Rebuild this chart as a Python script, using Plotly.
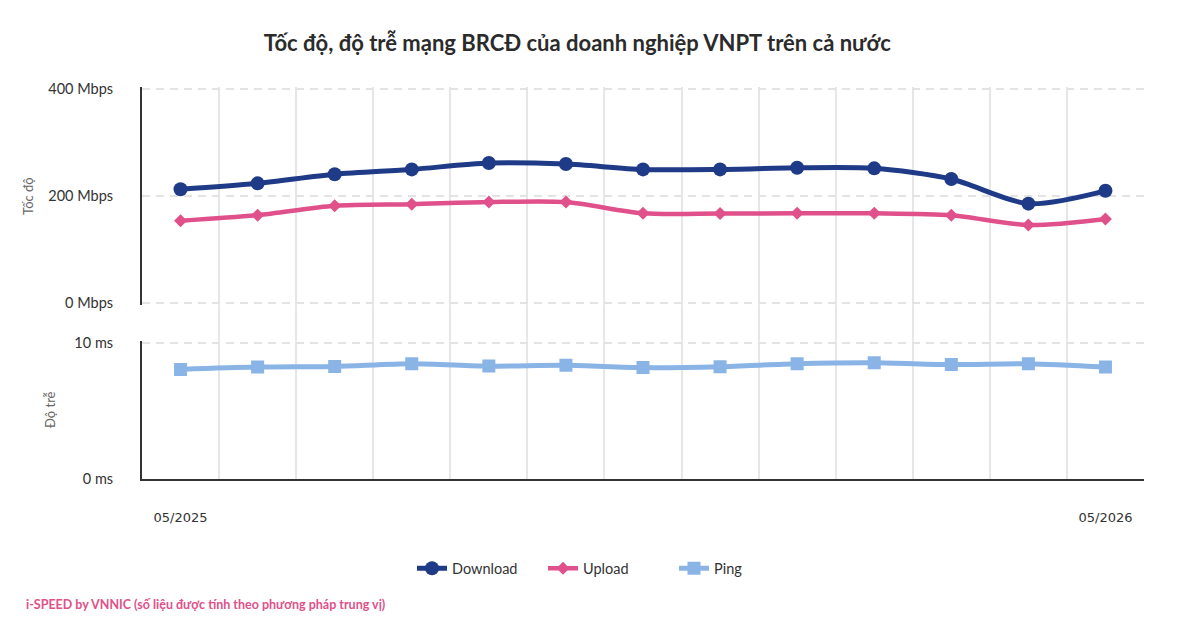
import plotly.graph_objects as go

months = ["05/2025", "06/2025", "07/2025", "08/2025", "09/2025", "10/2025", "11/2025",
          "12/2025", "01/2026", "02/2026", "03/2026", "04/2026", "05/2026"]
tick_text = ["05/2025", "", "", "", "", "", "", "", "", "", "", "", "05/2026"]
speed_ticks = [0, 200, 400]
speed_labels = ["0 Mbps", "200 Mbps", "400 Mbps"]
ping_ticks = [0, 10]
ping_labels = ["0 ms", "10 ms"]
download = [213, 224, 241, 250, 262, 260, 250, 250, 253, 252, 232, 186, 210]
upload = [154, 164.5, 182, 185, 189, 189, 168, 167.5, 168, 168, 164.5, 146, 157.5]
ping = [8.04, 8.21, 8.26, 8.46, 8.28, 8.34, 8.17, 8.24, 8.46, 8.53, 8.39, 8.46, 8.21]

C_DL = "#1f3a87"
C_UL = "#e0508a"
C_PING = "#8ab4e6"
FONT = "Lato"

fig = go.Figure()
# empty trace on a full-height axis so vertical gridlines span both panels
fig.add_trace(go.Scatter(x=months, y=[None] * len(months), xaxis="x", yaxis="y",
                         showlegend=False, hoverinfo="skip"))
fig.add_trace(go.Scatter(x=months, y=download, name="Download", xaxis="x", yaxis="y2",
                         mode="lines+markers", line=dict(color=C_DL, width=5, shape="spline", smoothing=0.8),
                         marker=dict(symbol="circle", size=14, color=C_DL)))
fig.add_trace(go.Scatter(x=months, y=upload, name="Upload", xaxis="x", yaxis="y2",
                         mode="lines+markers", line=dict(color=C_UL, width=4.5, shape="spline", smoothing=0.8),
                         marker=dict(symbol="diamond", size=10, color=C_UL)))
fig.add_trace(go.Scatter(x=months, y=ping, name="Ping", xaxis="x", yaxis="y3",
                         mode="lines+markers", line=dict(color=C_PING, width=5, shape="spline", smoothing=0.8),
                         marker=dict(symbol="square", size=13, color=C_PING)))

grid_dash = "8px,6px"
fig.update_layout(
    width=1200, height=628,
    margin=dict(l=142, r=56, t=87, b=149),
    paper_bgcolor="white", plot_bgcolor="white",
    font=dict(family=FONT, color="#333333", size=13),
    title=dict(text="<b>Tốc độ, độ trễ mạng BRCĐ của doanh nghiệp VNPT trên cả nước</b>",
               x=0.481, xanchor="center", y=0.931, yanchor="middle",
               font=dict(family=FONT, size=22, color="#2b2b2b")),
    xaxis=dict(type="category", anchor="y3", range=[-0.5, 12.5],
               tickmode="array", tickvals=months, ticktext=tick_text,
               tickson="boundaries", ticks="", showgrid=True, gridcolor="#e6e6e6", gridwidth=2,
               showline=True, linecolor="#333333", linewidth=2,
               ticklabelstandoff=25,
               tickfont=dict(family="DejaVu Sans", size=13, color="#333333"),
               zeroline=False),
    yaxis=dict(domain=[0, 1], visible=False, showgrid=False, range=[0, 1], fixedrange=True),
    yaxis2=dict(domain=[0.443, 1], anchor="x", range=[-4, 404],
                tickmode="array", tickvals=speed_ticks, ticktext=speed_labels,
                showgrid=True, gridcolor="#e3e3e3", gridwidth=2, griddash=grid_dash,
                showline=True, linecolor="#333333", linewidth=2, zeroline=False,
                ticks="", ticklabelstandoff=24,
                tickfont=dict(family=FONT, size=14.5, color="#333333"),
                title=dict(text="Tốc độ", standoff=12, font=dict(family=FONT, size=13, color="#666666"))),
    yaxis3=dict(domain=[0, 0.353], anchor="x", range=[0, 10.15],
                tickmode="array", tickvals=ping_ticks, ticktext=ping_labels,
                showgrid=True, gridcolor="#e3e3e3", gridwidth=2, griddash=grid_dash,
                showline=True, linecolor="#333333", linewidth=2, zeroline=False,
                ticks="", ticklabelstandoff=24,
                tickfont=dict(family=FONT, size=14.5, color="#333333"),
                title=dict(text="Độ trễ", standoff=16, font=dict(family=FONT, size=13, color="#666666"))),
    legend=dict(orientation="h", xref="container", yref="container", x=412 / 1200, xanchor="left",
                y=0.095, yanchor="middle", font=dict(family=FONT, size=14.5, color="#333333"),
                entrywidthmode="pixels", entrywidth=86, traceorder="normal"),
    annotations=[dict(text="<b>i-SPEED by VNNIC (số liệu được tính theo phương pháp trung vị)</b>",
                      xref="paper", yref="paper", x=(24 - 142) / 1002, y=-125 / 392,
                      xanchor="left", yanchor="middle", showarrow=False,
                      font=dict(family=FONT, size=12.5, color=C_UL))],
)

fig.write_html("out.html")
